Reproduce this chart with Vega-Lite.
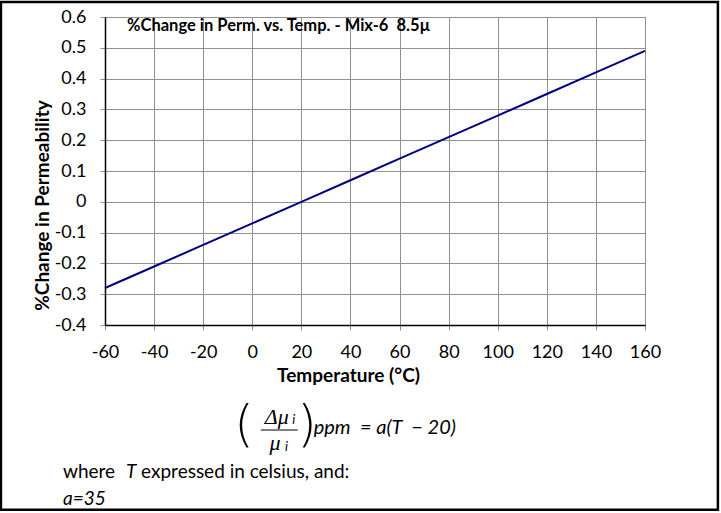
{
  "$schema": "https://vega.github.io/schema/vega-lite/v6.json",
  "width": 540,
  "height": 308,
  "autosize": {"type": "none"},
  "padding": {"left": 105, "top": 17, "right": 76, "bottom": 188},
  "background": "white",
  "config": {
    "font": "Lato",
    "view": {"stroke": "#888888", "strokeWidth": 1},
    "axis": {
      "labelFont": "Lato",
      "labelFontSize": 18,
      "labelColor": "black",
      "labelOverlap": false,
      "labelFlush": false,
      "titleFont": "Lato",
      "titleFontSize": 19,
      "titleFontWeight": "bold",
      "titleColor": "black",
      "gridColor": "#909090",
      "gridWidth": 1,
      "gridOpacity": 1,
      "domainColor": "black",
      "domainWidth": 1.5,
      "tickColor": "#909090",
      "tickSize": 5
    }
  },
  "title": {
    "text": "%Change in Perm. vs. Temp. - Mix-6\u00a0 8.5µ",
    "anchor": "start",
    "frame": "group",
    "orient": "top",
    "dx": 22,
    "offset": -34,
    "font": "Lato",
    "fontSize": 16.5,
    "fontWeight": "bold",
    "color": "black"
  },
  "layer": [
    {
      "data": {
        "values": [
          {"T": -60, "pct": -0.28},
          {"T": -40, "pct": -0.21},
          {"T": -20, "pct": -0.14},
          {"T": 0, "pct": -0.07},
          {"T": 20, "pct": 0.0},
          {"T": 40, "pct": 0.07},
          {"T": 60, "pct": 0.14},
          {"T": 80, "pct": 0.21},
          {"T": 100, "pct": 0.28},
          {"T": 120, "pct": 0.35},
          {"T": 140, "pct": 0.42},
          {"T": 160, "pct": 0.49}
        ]
      },
      "mark": {"type": "line", "color": "#000080", "strokeWidth": 2},
      "encoding": {
        "x": {
          "field": "T",
          "type": "quantitative",
          "scale": {"domain": [-60, 160], "nice": false, "zero": false},
          "axis": {"values": [-60, -40, -20, 0, 20, 40, 60, 80, 100, 120, 140, 160], "title": "Temperature (°C)", "labelPadding": 13, "labelExpr": "replace(datum.label, '−', '-')", "titleX": 243, "titleY": 50, "titleAnchor": null, "titleAlign": "center", "titleBaseline": "middle"}
        },
        "y": {
          "field": "pct",
          "type": "quantitative",
          "scale": {"domain": [-0.4, 0.6], "nice": false, "zero": false},
          "axis": {"values": [-0.4, -0.3, -0.2, -0.1, 0, 0.1, 0.2, 0.3, 0.4, 0.5, 0.6], "format": "~g", "labelExpr": "replace(datum.label, '−', '-')", "title": "%Change in Permeability", "labelPadding": 14, "titleX": -63, "titleY": 188, "titleAngle": -90, "titleAlign": "center", "titleBaseline": "middle"}
        }
      }
    },
    {
      "data": {"values": [{"label": "frame"}]},
      "mark": {"type": "rect", "fill": null, "stroke": "black", "strokeWidth": 2.5, "clip": false},
      "encoding": {
        "x": {"datum": -102.4, "type": "quantitative", "axis": {"values": [-60, -40, -20, 0, 20, 40, 60, 80, 100, 120, 140, 160], "title": "Temperature (°C)", "labelPadding": 13, "labelExpr": "replace(datum.label, '−', '-')", "titleX": 243, "titleY": 50, "titleAnchor": null, "titleAlign": "center", "titleBaseline": "middle"}},
        "x2": {"datum": 189.7},
        "y": {"datum": 0.649, "type": "quantitative", "axis": {"values": [-0.4, -0.3, -0.2, -0.1, 0, 0.1, 0.2, 0.3, 0.4, 0.5, 0.6], "format": "~g", "labelExpr": "replace(datum.label, '−', '-')", "title": "%Change in Permeability", "labelPadding": 14, "titleX": -63, "titleY": 188, "titleAngle": -90, "titleAlign": "center", "titleBaseline": "middle"}},
        "y2": {"datum": -1.0}
      }
    },
    {
      "data": {"values": [{"label": "Δμ"}]},
      "mark": {"type": "text", "font": "Liberation Serif", "fontSize": 22, "fontStyle": "italic", "align": "center", "baseline": "middle", "clip": false},
      "encoding": {
        "x": {"datum": 10.0, "type": "quantitative", "axis": {"values": [-60, -40, -20, 0, 20, 40, 60, 80, 100, 120, 140, 160], "title": "Temperature (°C)", "labelPadding": 13, "labelExpr": "replace(datum.label, '−', '-')", "titleX": 243, "titleY": 50, "titleAnchor": null, "titleAlign": "center", "titleBaseline": "middle"}},
        "y": {"datum": -0.699, "type": "quantitative", "axis": {"values": [-0.4, -0.3, -0.2, -0.1, 0, 0.1, 0.2, 0.3, 0.4, 0.5, 0.6], "format": "~g", "labelExpr": "replace(datum.label, '−', '-')", "title": "%Change in Permeability", "labelPadding": 14, "titleX": -63, "titleY": 188, "titleAngle": -90, "titleAlign": "center", "titleBaseline": "middle"}},
        "text": {"field": "label"}
      }
    },
    {
      "data": {"values": [{"label": "i"}]},
      "mark": {"type": "text", "font": "Lato", "fontSize": 13, "fontStyle": "italic", "align": "left", "baseline": "middle", "clip": false},
      "encoding": {
        "x": {"datum": 16.3, "type": "quantitative", "axis": {"values": [-60, -40, -20, 0, 20, 40, 60, 80, 100, 120, 140, 160], "title": "Temperature (°C)", "labelPadding": 13, "labelExpr": "replace(datum.label, '−', '-')", "titleX": 243, "titleY": 50, "titleAnchor": null, "titleAlign": "center", "titleBaseline": "middle"}},
        "y": {"datum": -0.71, "type": "quantitative", "axis": {"values": [-0.4, -0.3, -0.2, -0.1, 0, 0.1, 0.2, 0.3, 0.4, 0.5, 0.6], "format": "~g", "labelExpr": "replace(datum.label, '−', '-')", "title": "%Change in Permeability", "labelPadding": 14, "titleX": -63, "titleY": 188, "titleAngle": -90, "titleAlign": "center", "titleBaseline": "middle"}},
        "text": {"field": "label"}
      }
    },
    {
      "data": {"values": [{"label": "bar"}]},
      "mark": {"type": "rule", "color": "black", "strokeWidth": 1, "clip": false},
      "encoding": {
        "x": {"datum": 3.5, "type": "quantitative", "axis": {"values": [-60, -40, -20, 0, 20, 40, 60, 80, 100, 120, 140, 160], "title": "Temperature (°C)", "labelPadding": 13, "labelExpr": "replace(datum.label, '−', '-')", "titleX": 243, "titleY": 50, "titleAnchor": null, "titleAlign": "center", "titleBaseline": "middle"}},
        "x2": {"datum": 18.5},
        "y": {"datum": -0.741, "type": "quantitative", "axis": {"values": [-0.4, -0.3, -0.2, -0.1, 0, 0.1, 0.2, 0.3, 0.4, 0.5, 0.6], "format": "~g", "labelExpr": "replace(datum.label, '−', '-')", "title": "%Change in Permeability", "labelPadding": 14, "titleX": -63, "titleY": 188, "titleAngle": -90, "titleAlign": "center", "titleBaseline": "middle"}}
      }
    },
    {
      "data": {"values": [{"label": "μ"}]},
      "mark": {"type": "text", "font": "Liberation Serif", "fontSize": 22, "fontStyle": "italic", "align": "center", "baseline": "middle", "clip": false},
      "encoding": {
        "x": {"datum": 9.3, "type": "quantitative", "axis": {"values": [-60, -40, -20, 0, 20, 40, 60, 80, 100, 120, 140, 160], "title": "Temperature (°C)", "labelPadding": 13, "labelExpr": "replace(datum.label, '−', '-')", "titleX": 243, "titleY": 50, "titleAnchor": null, "titleAlign": "center", "titleBaseline": "middle"}},
        "y": {"datum": -0.783, "type": "quantitative", "axis": {"values": [-0.4, -0.3, -0.2, -0.1, 0, 0.1, 0.2, 0.3, 0.4, 0.5, 0.6], "format": "~g", "labelExpr": "replace(datum.label, '−', '-')", "title": "%Change in Permeability", "labelPadding": 14, "titleX": -63, "titleY": 188, "titleAngle": -90, "titleAlign": "center", "titleBaseline": "middle"}},
        "text": {"field": "label"}
      }
    },
    {
      "data": {"values": [{"label": "i"}]},
      "mark": {"type": "text", "font": "Lato", "fontSize": 13, "fontStyle": "italic", "align": "left", "baseline": "middle", "clip": false},
      "encoding": {
        "x": {"datum": 13.3, "type": "quantitative", "axis": {"values": [-60, -40, -20, 0, 20, 40, 60, 80, 100, 120, 140, 160], "title": "Temperature (°C)", "labelPadding": 13, "labelExpr": "replace(datum.label, '−', '-')", "titleX": 243, "titleY": 50, "titleAnchor": null, "titleAlign": "center", "titleBaseline": "middle"}},
        "y": {"datum": -0.795, "type": "quantitative", "axis": {"values": [-0.4, -0.3, -0.2, -0.1, 0, 0.1, 0.2, 0.3, 0.4, 0.5, 0.6], "format": "~g", "labelExpr": "replace(datum.label, '−', '-')", "title": "%Change in Permeability", "labelPadding": 14, "titleX": -63, "titleY": 188, "titleAngle": -90, "titleAlign": "center", "titleBaseline": "middle"}},
        "text": {"field": "label"}
      }
    },
    {
      "data": {"values": [{"label": "("}]},
      "mark": {"type": "text", "font": "DejaVu Sans", "fontWeight": 200, "fontSize": 50, "align": "center", "baseline": "middle", "clip": false},
      "encoding": {
        "x": {"datum": -3.4, "type": "quantitative", "axis": {"values": [-60, -40, -20, 0, 20, 40, 60, 80, 100, 120, 140, 160], "title": "Temperature (°C)", "labelPadding": 13, "labelExpr": "replace(datum.label, '−', '-')", "titleX": 243, "titleY": 50, "titleAnchor": null, "titleAlign": "center", "titleBaseline": "middle"}},
        "y": {"datum": -0.728, "type": "quantitative", "axis": {"values": [-0.4, -0.3, -0.2, -0.1, 0, 0.1, 0.2, 0.3, 0.4, 0.5, 0.6], "format": "~g", "labelExpr": "replace(datum.label, '−', '-')", "title": "%Change in Permeability", "labelPadding": 14, "titleX": -63, "titleY": 188, "titleAngle": -90, "titleAlign": "center", "titleBaseline": "middle"}},
        "text": {"field": "label"}
      }
    },
    {
      "data": {"values": [{"label": ")"}]},
      "mark": {"type": "text", "font": "DejaVu Sans", "fontWeight": 200, "fontSize": 50, "align": "center", "baseline": "middle", "clip": false},
      "encoding": {
        "x": {"datum": 22.3, "type": "quantitative", "axis": {"values": [-60, -40, -20, 0, 20, 40, 60, 80, 100, 120, 140, 160], "title": "Temperature (°C)", "labelPadding": 13, "labelExpr": "replace(datum.label, '−', '-')", "titleX": 243, "titleY": 50, "titleAnchor": null, "titleAlign": "center", "titleBaseline": "middle"}},
        "y": {"datum": -0.728, "type": "quantitative", "axis": {"values": [-0.4, -0.3, -0.2, -0.1, 0, 0.1, 0.2, 0.3, 0.4, 0.5, 0.6], "format": "~g", "labelExpr": "replace(datum.label, '−', '-')", "title": "%Change in Permeability", "labelPadding": 14, "titleX": -63, "titleY": 188, "titleAngle": -90, "titleAlign": "center", "titleBaseline": "middle"}},
        "text": {"field": "label"}
      }
    },
    {
      "data": {"values": [{"label": "ppm\u00a0 = a(T\u00a0 − 20)"}]},
      "mark": {"type": "text", "font": "Lato", "fontSize": 20, "fontStyle": "italic", "align": "left", "baseline": "middle", "clip": false},
      "encoding": {
        "x": {"datum": 25.0, "type": "quantitative", "axis": {"values": [-60, -40, -20, 0, 20, 40, 60, 80, 100, 120, 140, 160], "title": "Temperature (°C)", "labelPadding": 13, "labelExpr": "replace(datum.label, '−', '-')", "titleX": 243, "titleY": 50, "titleAnchor": null, "titleAlign": "center", "titleBaseline": "middle"}},
        "y": {"datum": -0.734, "type": "quantitative", "axis": {"values": [-0.4, -0.3, -0.2, -0.1, 0, 0.1, 0.2, 0.3, 0.4, 0.5, 0.6], "format": "~g", "labelExpr": "replace(datum.label, '−', '-')", "title": "%Change in Permeability", "labelPadding": 14, "titleX": -63, "titleY": 188, "titleAngle": -90, "titleAlign": "center", "titleBaseline": "middle"}},
        "text": {"field": "label"}
      }
    },
    {
      "data": {"values": [{"label": "where"}]},
      "mark": {"type": "text", "font": "Lato", "fontSize": 19, "align": "left", "baseline": "middle", "clip": false},
      "encoding": {
        "x": {"datum": -77.1, "type": "quantitative", "axis": {"values": [-60, -40, -20, 0, 20, 40, 60, 80, 100, 120, 140, 160], "title": "Temperature (°C)", "labelPadding": 13, "labelExpr": "replace(datum.label, '−', '-')", "titleX": 243, "titleY": 50, "titleAnchor": null, "titleAlign": "center", "titleBaseline": "middle"}},
        "y": {"datum": -0.877, "type": "quantitative", "axis": {"values": [-0.4, -0.3, -0.2, -0.1, 0, 0.1, 0.2, 0.3, 0.4, 0.5, 0.6], "format": "~g", "labelExpr": "replace(datum.label, '−', '-')", "title": "%Change in Permeability", "labelPadding": 14, "titleX": -63, "titleY": 188, "titleAngle": -90, "titleAlign": "center", "titleBaseline": "middle"}},
        "text": {"field": "label"}
      }
    },
    {
      "data": {"values": [{"label": "T"}]},
      "mark": {"type": "text", "font": "Lato", "fontSize": 19, "fontStyle": "italic", "align": "left", "baseline": "middle", "clip": false},
      "encoding": {
        "x": {"datum": -51.4, "type": "quantitative", "axis": {"values": [-60, -40, -20, 0, 20, 40, 60, 80, 100, 120, 140, 160], "title": "Temperature (°C)", "labelPadding": 13, "labelExpr": "replace(datum.label, '−', '-')", "titleX": 243, "titleY": 50, "titleAnchor": null, "titleAlign": "center", "titleBaseline": "middle"}},
        "y": {"datum": -0.877, "type": "quantitative", "axis": {"values": [-0.4, -0.3, -0.2, -0.1, 0, 0.1, 0.2, 0.3, 0.4, 0.5, 0.6], "format": "~g", "labelExpr": "replace(datum.label, '−', '-')", "title": "%Change in Permeability", "labelPadding": 14, "titleX": -63, "titleY": 188, "titleAngle": -90, "titleAlign": "center", "titleBaseline": "middle"}},
        "text": {"field": "label"}
      }
    },
    {
      "data": {"values": [{"label": "expressed in celsius, and:"}]},
      "mark": {"type": "text", "font": "Lato", "fontSize": 19, "align": "left", "baseline": "middle", "clip": false},
      "encoding": {
        "x": {"datum": -45.3, "type": "quantitative", "axis": {"values": [-60, -40, -20, 0, 20, 40, 60, 80, 100, 120, 140, 160], "title": "Temperature (°C)", "labelPadding": 13, "labelExpr": "replace(datum.label, '−', '-')", "titleX": 243, "titleY": 50, "titleAnchor": null, "titleAlign": "center", "titleBaseline": "middle"}},
        "y": {"datum": -0.877, "type": "quantitative", "axis": {"values": [-0.4, -0.3, -0.2, -0.1, 0, 0.1, 0.2, 0.3, 0.4, 0.5, 0.6], "format": "~g", "labelExpr": "replace(datum.label, '−', '-')", "title": "%Change in Permeability", "labelPadding": 14, "titleX": -63, "titleY": 188, "titleAngle": -90, "titleAlign": "center", "titleBaseline": "middle"}},
        "text": {"field": "label"}
      }
    },
    {
      "data": {"values": [{"label": "a=35"}]},
      "mark": {"type": "text", "font": "Lato", "fontSize": 19, "fontStyle": "italic", "align": "left", "baseline": "middle", "clip": false},
      "encoding": {
        "x": {"datum": -77.1, "type": "quantitative", "axis": {"values": [-60, -40, -20, 0, 20, 40, 60, 80, 100, 120, 140, 160], "title": "Temperature (°C)", "labelPadding": 13, "labelExpr": "replace(datum.label, '−', '-')", "titleX": 243, "titleY": 50, "titleAnchor": null, "titleAlign": "center", "titleBaseline": "middle"}},
        "y": {"datum": -0.965, "type": "quantitative", "axis": {"values": [-0.4, -0.3, -0.2, -0.1, 0, 0.1, 0.2, 0.3, 0.4, 0.5, 0.6], "format": "~g", "labelExpr": "replace(datum.label, '−', '-')", "title": "%Change in Permeability", "labelPadding": 14, "titleX": -63, "titleY": 188, "titleAngle": -90, "titleAlign": "center", "titleBaseline": "middle"}},
        "text": {"field": "label"}
      }
    }
  ]
}
